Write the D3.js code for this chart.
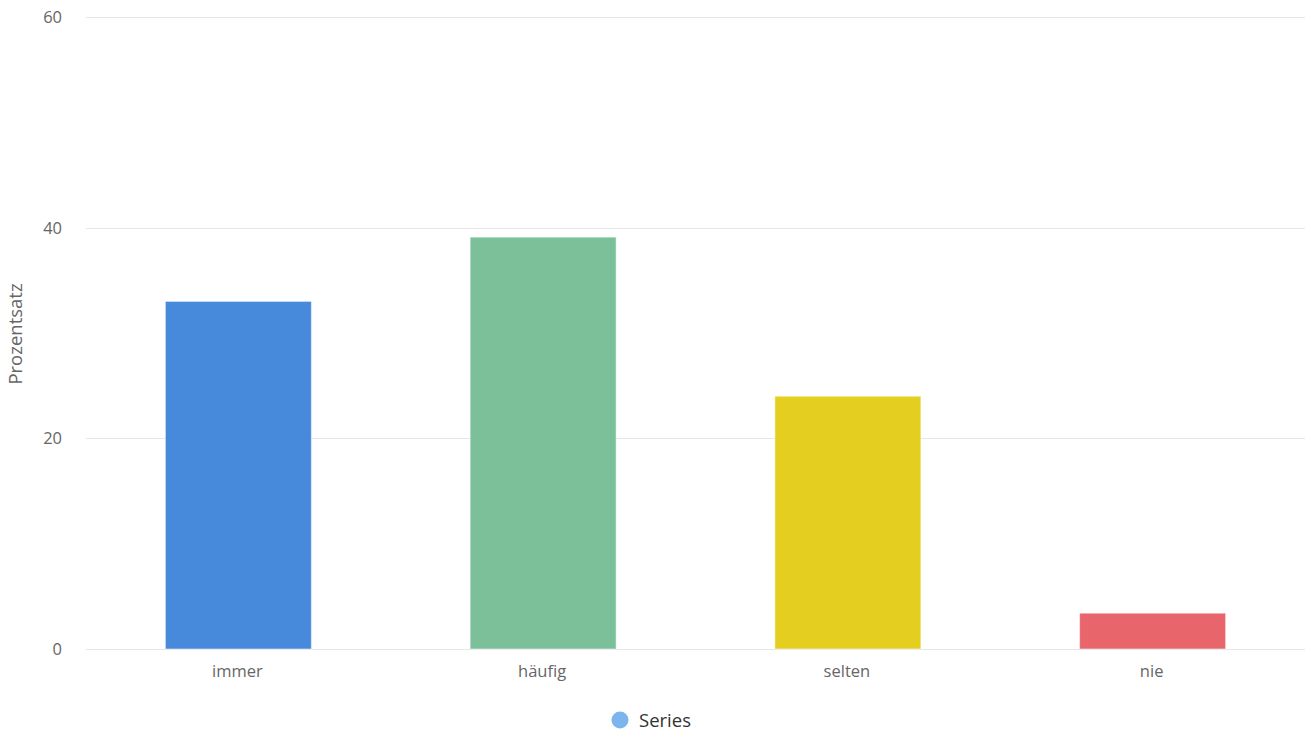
<!DOCTYPE html>
<html><head><meta charset="utf-8">
<script src="https://cdn.jsdelivr.net/npm/d3@7"></script>
<style>body{margin:0;background:#fff;font-family:"Open Sans",sans-serif;}</style>
</head><body><svg id="c" width="1310" height="733"></svg>
<script>
const categories = ["immer", "häufig", "selten", "nie"];
const values = [33.0, 39.1, 24.0, 3.4];
const colors = ["#4789db", "#7cc09a", "#e4cf21", "#e8666b"];
const yTicks = [0, 20, 40, 60];
const yTitle = "Prozentsatz";
const seriesName = "Series";

const svg = d3.select("#c");
const m = {l: 86, r: 1305, t: 17, b: 649};
const x = d3.scaleBand().domain(categories).range([m.l, m.r]).paddingInner(0).paddingOuter(0);
const y = d3.scaleLinear().domain([0, 60]).range([m.b, m.t]);

// grid
svg.append("g").selectAll("line").data(yTicks).join("line")
  .attr("x1", m.l).attr("x2", m.r)
  .attr("y1", d => Math.round(y(d)) + 0.5).attr("y2", d => Math.round(y(d)) + 0.5)
  .attr("stroke", "#e6e6e6").attr("stroke-width", 1);

// y labels
svg.append("g").selectAll("text").data(yTicks).join("text")
  .attr("x", 62).attr("y", d => y(d) + 6)
  .attr("text-anchor", "end").attr("fill", "#666").attr("font-size", 16.5)
  .text(d => d);

// y title
svg.append("text").attr("transform", `translate(22,${(m.t + m.b) / 2 + 1}) rotate(-90)`)
  .attr("text-anchor", "middle").attr("fill", "#666").attr("font-size", 18.5).text(yTitle);

// bars
const bw = 146;
svg.append("g").selectAll("rect").data(values).join("rect")
  .attr("x", (d, i) => x(categories[i]) + x.bandwidth() / 2 - bw / 2)
  .attr("width", bw)
  .attr("y", d => y(d))
  .attr("height", d => y(0) - y(d))
  .attr("fill", (d, i) => colors[i])
  .attr("stroke", "#ffffff").attr("stroke-opacity", 0.5).attr("stroke-width", 1);

// x labels
svg.append("g").selectAll("text").data(categories).join("text")
  .attr("x", d => x(d) + x.bandwidth() / 2 - 1).attr("y", 677)
  .attr("text-anchor", "middle").attr("fill", "#666").attr("font-size", 16.5)
  .text(d => d);

// legend
svg.append("circle").attr("cx", 620).attr("cy", 720).attr("r", 8.5).attr("fill", "#7cb5ec");
svg.append("text").attr("x", 639).attr("y", 726.5).attr("fill", "#333").attr("font-size", 18.5)
  .text(seriesName);
</script></body></html>
